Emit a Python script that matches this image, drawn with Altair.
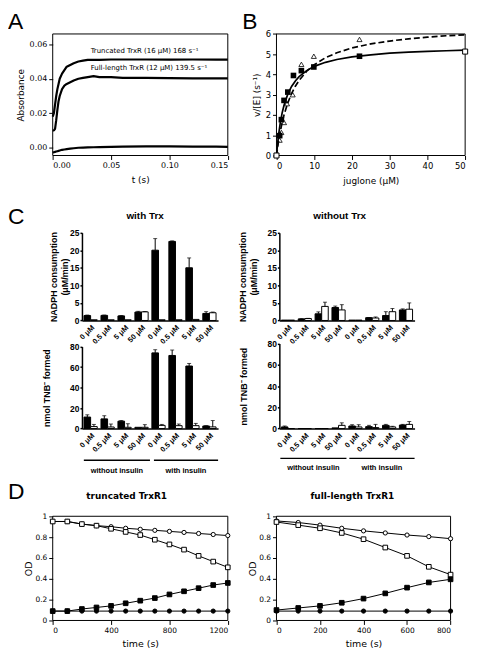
import json
import altair as alt
import pandas as pd

FV = "DejaVu Sans"
FA = "Liberation Sans"
ONE = alt.Data(values=[{"k": 1}])

# ---------------- Panel A data ----------------
a_t = [0, 0.001, 0.002, 0.003, 0.004, 0.005, 0.006, 0.008, 0.010, 0.012, 0.015, 0.018,
       0.022, 0.026, 0.030, 0.035, 0.040, 0.050, 0.060, 0.080, 0.100, 0.120, 0.140, 0.150]
a_trunc = [0.018, 0.020, 0.025, 0.030, 0.034, 0.037, 0.040, 0.043, 0.045, 0.047, 0.048, 0.049,
           0.050, 0.0505, 0.051, 0.051, 0.051, 0.0512, 0.0512, 0.0512, 0.0511, 0.0512, 0.0511, 0.0511]
a_full = [0.010, 0.010, 0.011, 0.016, 0.022, 0.027, 0.030, 0.034, 0.036, 0.037, 0.038, 0.039,
          0.040, 0.0405, 0.041, 0.0415, 0.041, 0.041, 0.0405, 0.0405, 0.0404, 0.0402, 0.0402, 0.0402]
a_base = [-0.0028, -0.0026, -0.0024, -0.0022, -0.0020, -0.0018, -0.0016, -0.0012, -0.0010, -0.0008, -0.0005, -0.0003,
          0.0, 0.0001, 0.0002, 0.0003, 0.0004, 0.0005, 0.0006, 0.0008, 0.0008, 0.0007, 0.0006, 0.0005]
a_xticks = [0, 0.05, 0.10, 0.15]
a_yticks = [0, 0.02, 0.04, 0.06]
a_ann = ["Truncated TrxR (16 μM) 168 s⁻¹", "Full-length TrxR (12 μM) 139.5 s⁻¹"]
a_ann_t = [0.0325, 0.0325]
a_ann_v = [0.0562, 0.0462]

# ---------------- Panel B data ----------------
b_sq_x = [0.85, 1.3, 2.0, 3.0, 4.5, 6.6, 9.9, 22.0]
b_sq_y = [0.98, 1.77, 2.72, 3.13, 3.95, 4.19, 4.37, 4.90]
b_open_x = [0, 50]
b_open_y = [0, 5.13]
b_tri_x = [0.85, 1.3, 2.0, 2.8, 4.3, 6.6, 9.9, 22.0]
b_tri_y = [0.76, 1.14, 1.63, 2.56, 3.00, 4.50, 4.90, 5.73]
b_fit_x = [0, 0.5, 1, 1.5, 2, 3, 4, 5, 6, 8, 10, 13, 16, 20, 25, 30, 35, 40, 45, 50]
b_fit_solid = [0, 0.94, 1.60, 2.10, 2.48, 3.03, 3.41, 3.68, 3.89, 4.19, 4.40, 4.60, 4.74, 4.87,
               4.97, 5.05, 5.10, 5.14, 5.17, 5.20]
b_fit_dash = [0, 0.65, 1.18, 1.63, 2.00, 2.60, 3.06, 3.42, 3.71, 4.16, 4.48, 4.83, 5.07, 5.31,
              5.51, 5.65, 5.76, 5.84, 5.91, 5.96]

# ---------------- Panel C data ----------------
conc_labels = ["0 μM", "0.5 μM", "5 μM", "50 μM"]
insulin_labels = ["without insulin", "with insulin"]

c_tl_black = [1.4, 1.45, 1.3, 2.4, 20.0, 22.5, 15.0, 2.0]
c_tl_black_err = [0.15, 0.1, 0.1, 0.2, 3.3, 0.15, 2.8, 0.5]
c_tl_white = [0.2, 0.2, 0.2, 2.45, 0.2, 0.2, 0.3, 2.2]
c_tl_white_err = [0, 0, 0, 0.1, 0, 0, 0, 0.2]

c_bl_black = [11.2, 9.4, 7.2, 1.2, 73.8, 71.3, 61.0, 2.5]
c_bl_black_err = [2.2, 3.1, 0.6, 0, 3.1, 5.3, 2.5, 0.3]
c_bl_white = [1.9, 1.5, 1.2, 1.2, 3.1, 2.8, 2.8, 1.6]
c_bl_white_err = [2.1, 2.9, 3.5, 2.6, 0.9, 1.6, 2.2, 6.2]

c_tr_black = [0.1, 0.45, 1.9, 3.7, 0.1, 0.8, 1.4, 3.0]
c_tr_black_err = [0, 0.05, 0.55, 0.4, 0, 0.05, 1.1, 0.3]
c_tr_white = [0.1, 0.55, 4.0, 3.0, 0.1, 0.7, 2.5, 3.2]
c_tr_white_err = [0, 0.05, 1.2, 1.5, 0, 0.3, 0.9, 1.8]

c_br_black = [1.5, 0.0, 0.0, 0.6, 2.4, 1.8, 3.0, 3.3]
c_br_black_err = [0.9, 0, 0, 0, 1.2, 1.2, 0.9, 0.6]
c_br_white = [0.0, 0.0, 0.0, 3.0, 1.5, 0.9, 1.5, 3.9]
c_br_white_err = [0, 0, 0, 2.4, 2.1, 3.0, 0.6, 2.7]

# ---------------- Panel D data ----------------
d1_t = [0, 100, 200, 300, 400, 500, 600, 700, 800, 900, 1000, 1100, 1200]
d1_oc = [0.95, 0.95, 0.925, 0.91, 0.90, 0.885, 0.875, 0.865, 0.855, 0.845, 0.835, 0.825, 0.815]
d1_os = [0.95, 0.95, 0.925, 0.91, 0.88, 0.85, 0.82, 0.775, 0.73, 0.68, 0.62, 0.565, 0.51]
d1_fs = [0.09, 0.09, 0.11, 0.125, 0.14, 0.165, 0.19, 0.215, 0.25, 0.28, 0.31, 0.34, 0.36]
d1_fc = [0.09, 0.09, 0.09, 0.09, 0.09, 0.09, 0.09, 0.09, 0.09, 0.09, 0.09, 0.09, 0.09]

d2_t = [0, 100, 200, 300, 400, 500, 600, 700, 800]
d2_oc = [0.955, 0.94, 0.915, 0.885, 0.86, 0.84, 0.82, 0.805, 0.785]
d2_os = [0.945, 0.915, 0.885, 0.84, 0.78, 0.70, 0.62, 0.515, 0.44]
d2_fs = [0.10, 0.12, 0.14, 0.17, 0.21, 0.26, 0.315, 0.365, 0.395]
d2_fc = [0.09, 0.09, 0.09, 0.09, 0.09, 0.09, 0.09, 0.09, 0.09]

# ---------------- layout (reference-pixel boxes mapped into one canvas) ----------------
SX, SY = 0.981, 0.973


def X(r):
    return round((r - 2) * SX, 1)


def Y(r):
    return round((r - 5) * SY, 1)


W_CH, H_CH = X(477), Y(663)

P_A = (48, 228, 27, 153)
P_B = (278, 472, 27, 153)
P_CTL = (78, 218, 233, 324)
P_CBL = (78, 218, 351, 436)
P_CTR = (281, 420, 233, 324)
P_CBR = (281, 420, 348, 436)
P_DL = (48, 228, 527, 635)
P_DR = (278, 457, 527, 635)


def geom(p):
    x0, x1, y0, y1 = p
    return [X(x0), X(x1)], [Y(y1), Y(y0)], Y(y1) - H_CH, -X(x0)


def ax_v(**kw):
    base = dict(labelFont=FV, labelFontSize=8, labelColor="black", titleFont=FV, titleFontSize=9,
                titleFontWeight="normal", titleColor="black", tickSize=4, tickColor="black",
                domain=False, grid=False, labelPadding=2)
    base.update(kw)
    return alt.Axis(**base)


def box(xd, yd):
    return alt.Chart(ONE).mark_rect(fillOpacity=0, stroke="black", strokeWidth=1).encode(
        x=alt.datum(xd[0]), x2=alt.datum(xd[1]), y=alt.datum(yd[0]), y2=alt.datum(yd[1]))


def txt(text, x, y, size, font=FA, weight="normal", align="center", baseline="middle"):
    return alt.Chart(ONE).mark_text(text=text, font=font, fontSize=size, fontWeight=weight, color="black",
                                    align=align, baseline=baseline).encode(x=alt.value(x), y=alt.value(y))


# ---------------- Panel A ----------------
xr, yr, boff, loff = geom(P_A)
n = len(a_t)
dfA = pd.DataFrame({"t": a_t * 3, "v": a_trunc + a_full + a_base,
                    "s": ["trunc"] * n + ["full"] * n + ["base"] * n})
xA = alt.X("t:Q", scale=alt.Scale(domain=[0, 0.15], range=xr, nice=False, zero=False),
           axis=ax_v(orient="bottom", offset=boff, values=a_xticks, format=".2f", title="t (s)", titlePadding=6))
yA = alt.Y("v:Q", scale=alt.Scale(domain=[-0.0045, 0.066], range=yr, nice=False, zero=False),
           axis=ax_v(orient="left", offset=loff, values=a_yticks, format=".2f", title="Absorbance",
                     titlePadding=4))
lineA = alt.Chart(dfA).mark_line(color="black", strokeWidth=2.2, strokeJoin="round").encode(
    x=xA, y=yA, detail="s:N")
annA = alt.Chart(pd.DataFrame({"t": a_ann_t, "v": a_ann_v, "label": a_ann})).mark_text(
    align="left", baseline="middle", font=FV, fontSize=7, color="black").encode(
    x=alt.X("t:Q"), y=alt.Y("v:Q"), text="label:N")
panelA = alt.layer(box([0, 0.15], [-0.0045, 0.066]), lineA, annA)

# ---------------- Panel B ----------------
xr, yr, boff, loff = geom(P_B)
xB = alt.X("x:Q", scale=alt.Scale(domain=[0, 50], range=xr, nice=False),
           axis=ax_v(orient="bottom", offset=boff, values=[0, 10, 20, 30, 40, 50], format="d",
                     title="juglone (μM)", titlePadding=7, labelFontSize=8.5))
yB = alt.Y("y:Q", scale=alt.Scale(domain=[0, 6], range=yr, nice=False),
           axis=ax_v(orient="left", offset=loff, values=[0, 1, 2, 3, 4, 5, 6], format="d", title="v/[E] (s⁻¹)",
                     titlePadding=4, labelFontSize=8.5))
solidB = alt.Chart(pd.DataFrame({"x": b_fit_x, "y": b_fit_solid})).mark_line(
    color="black", strokeWidth=1.7).encode(x=xB, y=yB)
dashB = alt.Chart(pd.DataFrame({"x": b_fit_x, "y": b_fit_dash})).mark_line(
    color="black", strokeWidth=1.7, strokeDash=[6, 3]).encode(x=xB, y=yB)
sqB = alt.Chart(pd.DataFrame({"x": b_sq_x, "y": b_sq_y})).mark_point(
    shape="square", filled=True, color="black", size=32, opacity=1).encode(x=xB, y=yB)
osqB = alt.Chart(pd.DataFrame({"x": b_open_x, "y": b_open_y})).mark_point(
    shape="square", filled=True, fill="white", stroke="black", strokeWidth=1, size=26, opacity=1).encode(x=xB, y=yB)
triB = alt.Chart(pd.DataFrame({"x": b_tri_x, "y": b_tri_y})).mark_point(
    shape="triangle-up", filled=False, color="black", strokeWidth=0.8, size=26, opacity=1).encode(x=xB, y=yB)
panelB = alt.layer(box([0, 50], [0, 6]), solidB, dashB, triB, sqB, osqB)

# ---------------- Panel C ----------------
lab_expr = json.dumps(conc_labels, ensure_ascii=False) + "[datum.value % 4]"


def cpanel(p, black, berr, white, werr, ymax, yvals, ytitle, tpad):
    xr, yr, boff, loff = geom(p)
    rows = []
    for i in range(8):
        rows.append({"g": i, "s": "a", "v": black[i], "hi": black[i] + berr[i], "e": berr[i]})
        rows.append({"g": i, "s": "b", "v": white[i], "hi": white[i] + werr[i], "e": werr[i]})
    df = pd.DataFrame(rows)
    dfe = df[df["e"] > 0]
    x = alt.X("g:O", scale=alt.Scale(range=xr, paddingInner=0.22, paddingOuter=0.12),
              axis=alt.Axis(orient="bottom", offset=boff, title=None, labelExpr=lab_expr, labelAngle=-45,
                            labelAlign="right", labelBaseline="top", labelFont=FA, labelFontWeight="bold",
                            labelFontSize=7.5, labelColor="black", ticks=False, labelPadding=3,
                            domainColor="black", domainWidth=1.5, grid=False))
    xo = alt.XOffset("s:N", scale=alt.Scale(domain=["a", "b"]))
    yax = alt.Axis(orient="left", offset=loff, values=yvals, title=ytitle, titleFont=FA, titleFontWeight="bold",
                   titleFontSize=9, titleColor="black", titlePadding=tpad, labelFont=FA, labelFontWeight="bold",
                   labelFontSize=8.5, labelColor="black", labelPadding=1, tickSize=2, tickWidth=1.5,
                   tickColor="black", domainColor="black", domainWidth=1.5, grid=False)
    ysc = alt.Scale(domain=[0, ymax], range=yr, nice=False)
    bars = alt.Chart(df).mark_bar(stroke="black", strokeWidth=1).encode(
        x=x, xOffset=xo, y=alt.Y("v:Q", scale=ysc, axis=yax),
        fill=alt.Fill("s:N", scale=alt.Scale(domain=["a", "b"], range=["black", "white"]), legend=None))
    err = alt.Chart(dfe).mark_rule(color="black", strokeWidth=1).encode(
        x=x, xOffset=xo, y=alt.Y("v:Q", scale=ysc, axis=yax), y2="hi:Q")
    cap = alt.Chart(dfe).mark_tick(color="black", thickness=1, size=4).encode(
        x=x, xOffset=xo, y=alt.Y("hi:Q", scale=ysc, axis=yax))
    return alt.layer(bars, err, cap)


nadph_title = ["NADPH consumption", "(μM/min)"]
tnb_title = "nmol TNB⁻ formed"

c_tl = cpanel(P_CTL, c_tl_black, c_tl_black_err, c_tl_white, c_tl_white_err, 25, [0, 5, 10, 15, 20, 25],
              nadph_title, 0)
c_bl = cpanel(P_CBL, c_bl_black, c_bl_black_err, c_bl_white, c_bl_white_err, 80, [0, 20, 40, 60, 80],
              tnb_title, 18)
c_tr = cpanel(P_CTR, c_tr_black, c_tr_black_err, c_tr_white, c_tr_white_err, 25, [0, 5, 10, 15, 20, 25],
              nadph_title, 9)
c_br = cpanel(P_CBR, c_br_black, c_br_black_err, c_br_white, c_br_white_err, 80, [0, 20, 40, 60, 80],
              tnb_title, 19)


# ---------------- Panel D ----------------
def dpanel(p, t, oc, osq, fsq, fc, xmax, xvals):
    xr, yr, boff, loff = geom(p)
    x = alt.X("t:Q", scale=alt.Scale(domain=[0, xmax], range=xr, nice=False),
              axis=ax_v(orient="bottom", offset=boff, values=xvals, format="d", title="time (s)", titlePadding=5,
                        labelFontSize=7.5, titleFontSize=9.5))
    y = alt.Y("v:Q", scale=alt.Scale(domain=[0, 1], range=yr, nice=False),
              axis=ax_v(orient="left", offset=loff, values=[0, 0.2, 0.4, 0.6, 0.8, 1], format="~g", title="OD",
                        titlePadding=1, labelFontSize=7.5, titleFontSize=9.5))
    m = len(t)
    df = pd.DataFrame({"t": t * 4, "v": oc + osq + fsq + fc,
                       "s": ["oc"] * m + ["os"] * m + ["fs"] * m + ["fc"] * m})
    lines = alt.Chart(df).mark_line(color="black", strokeWidth=1).encode(x=x, y=y, detail="s:N")
    specs = [(oc, "circle", "white", 18), (osq, "square", "white", 22),
             (fsq, "square", "black", 22), (fc, "circle", "black", 18)]
    pts = [alt.Chart(pd.DataFrame({"t": t, "v": vals})).mark_point(
        shape=shp, filled=True, fill=fl, stroke="black", strokeWidth=1, size=sz, opacity=1).encode(x=x, y=y)
        for vals, shp, fl, sz in specs]
    return alt.layer(box([0, xmax], [0, 1]), lines, *pts)


d_left = dpanel(P_DL, d1_t, d1_oc, d1_os, d1_fs, d1_fc, 1200, [0, 400, 800, 1200])
d_right = dpanel(P_DR, d2_t, d2_oc, d2_os, d2_fs, d2_fc, 800, [0, 200, 400, 600, 800])

# ---------------- free text: panel letters, titles, insulin brackets ----------------
decor = [
    txt("A", X(2), Y(5) - 2, 23, align="left", baseline="top"),
    txt("B", X(243), Y(5) - 2, 23, align="left", baseline="top"),
    txt("C", X(2), Y(208) - 2, 23, align="left", baseline="top"),
    txt("D", X(2), Y(493) - 2, 23, align="left", baseline="top"),
    txt("with Trx", X(143), Y(216), 10, weight="bold"),
    txt("without Trx", X(343), Y(216), 10, weight="bold"),
    txt("truncated TrxR1", X(124), Y(506), 9, font=FV, weight="bold"),
    txt("full-length TrxR1", X(356), Y(506), 9, font=FV, weight="bold"),
]
brackets = [((80, 148), (152, 218), 469, 480), ((282, 350), (353, 420), 467, 477)]
for seg1, seg2, yl, yt in brackets:
    for k, (s0, s1) in enumerate((seg1, seg2)):
        decor.append(alt.Chart(ONE).mark_rule(color="black", strokeWidth=1.5).encode(
            x=alt.value(X(s0)), x2=alt.value(X(s1)), y=alt.value(Y(yl))))
        decor.append(txt(insulin_labels[k], X((s0 + s1) / 2), Y(yt), 7.5, weight="bold"))

chart = alt.layer(panelA, panelB, c_tl, c_bl, c_tr, c_br, d_left, d_right, *decor).resolve_scale(
    x="independent", y="independent", xOffset="independent", fill="independent"
).properties(width=W_CH, height=H_CH, padding=0, background="white").configure_view(stroke="transparent")

chart.save("out.html", embed_options={"renderer": "svg", "actions": False})
